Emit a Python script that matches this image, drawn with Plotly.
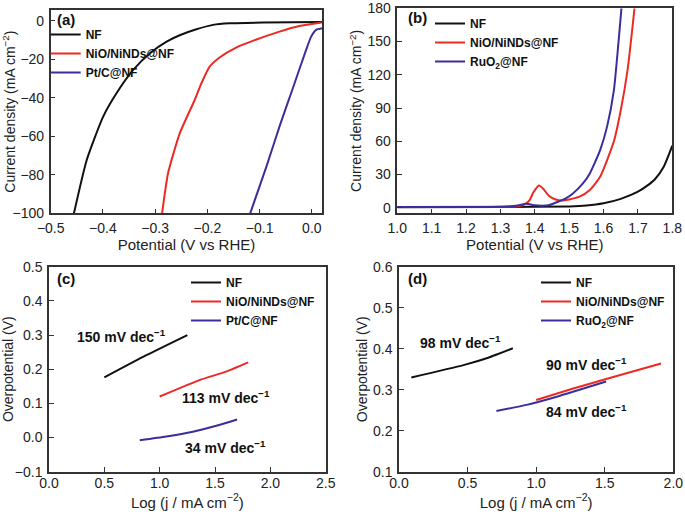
import plotly.graph_objects as go

# ---------------- data ----------------
# (a) HER polarization
a_nf_x = [-0.4555, -0.431, -0.3995, -0.374, -0.342, -0.310, -0.278, -0.253, -0.221, -0.189, -0.157, -0.094, 0.02]
a_nf_y = [-100, -72.3, -49.8, -37.7, -25.6, -16.9, -10.9, -7.6, -4.5, -2.2, -1.4, -1.0, -0.7]
a_nio_x = [-0.2867, -0.2753, -0.2529, -0.2243, -0.2114, -0.1956, -0.176, -0.145, -0.113, -0.062, -0.024, 0.019]
a_nio_y = [-100, -79.2, -58.5, -41.2, -32.5, -23.9, -19.0, -14.0, -10.5, -5.7, -2.8, -1.0]
a_pt_x = [-0.118, -0.087, -0.062, -0.0364, -0.011, -0.0013, 0.0083, 0.02]
a_pt_y = [-100, -75.8, -55.0, -35.1, -15.2, -8.3, -4.8, -4.0]

# (b) OER polarization
b_nf_x = [1.0, 1.3, 1.5, 1.55, 1.6, 1.65, 1.7, 1.725, 1.75, 1.775, 1.8]
b_nf_y = [0.5, 0.6, 1.2, 2.0, 4.0, 8.0, 14.5, 19.5, 26.0, 37.0, 56.0]
b_nio_x = [1.0, 1.3, 1.35, 1.37, 1.385, 1.396, 1.412, 1.425, 1.44, 1.46, 1.48, 1.50, 1.53, 1.56, 1.59, 1.63, 1.65, 1.67, 1.69]
b_nio_y = [0.8, 0.9, 1.3, 3.0, 7.0, 14.0, 20.2, 17.0, 11.0, 7.5, 6.6, 7.5, 10.0, 16.0, 28.0, 60.0, 88.0, 125.0, 180.0]
b_ru_x = [1.0, 1.3, 1.35, 1.375, 1.40, 1.42, 1.44, 1.46, 1.49, 1.51, 1.54, 1.56, 1.59, 1.61, 1.63, 1.643, 1.652]
b_ru_y = [0.8, 0.9, 2.0, 3.6, 2.2, 1.8, 2.2, 4.5, 8.5, 12.7, 22.0, 31.0, 52.0, 73.0, 106.0, 148.0, 180.0]

# (c) HER Tafel
c_nf_x = [0.5, 0.88, 1.25]
c_nf_y = [0.176, 0.241, 0.30]
c_nio_x = [1.0, 1.36, 1.6, 1.8]
c_nio_y = [0.12, 0.168, 0.193, 0.22]
c_pt_x = [0.82, 1.06, 1.30, 1.52, 1.70]
c_pt_y = [-0.008, 0.003, 0.017, 0.035, 0.053]
c_labels = ["150 mV dec<sup>−1</sup>", "113 mV dec<sup>−1</sup>", "34 mV dec<sup>−1</sup>"]
c_label_x = [0.657, 1.595, 1.593]
c_label_y = [0.298, 0.1176, -0.0288]

# (d) OER Tafel
d_nf_x = [0.09, 0.47, 0.65, 0.83]
d_nf_y = [0.33, 0.36, 0.378, 0.401]
d_nio_x = [1.0, 1.27, 1.51, 1.91]
d_nio_y = [0.275, 0.303, 0.326, 0.364]
d_ru_x = [0.71, 0.93, 1.15, 1.51]
d_ru_y = [0.248, 0.263, 0.283, 0.320]
d_labels = ["98 mV dec<sup>−1</sup>", "90 mV dec<sup>−1</sup>", "84 mV dec<sup>−1</sup>"]
d_label_x = [0.445, 1.368, 1.368]
d_label_y = [0.4154, 0.3626, 0.2488]

names_her = ["NF", "NiO/NiNDs@NF", "Pt/C@NF"]
names_oer = ["NF", "NiO/NiNDs@NF", "RuO<sub>2</sub>@NF"]
colors = ["#111111", "#EC2A23", "#3A2E9C"]

FONT = "Arial, Liberation Sans, sans-serif"

fig = go.Figure()

def add(x, y, name, color, xa, ya, leg):
    fig.add_trace(go.Scatter(x=x, y=y, name=name, mode="lines",
                             line=dict(color=color, width=2, shape="spline", smoothing=0.55),
                             xaxis=xa, yaxis=ya, legend=leg))

add(a_nf_x, a_nf_y, names_her[0], colors[0], "x", "y", "legend")
add(a_nio_x, a_nio_y, names_her[1], colors[1], "x", "y", "legend")
add(a_pt_x, a_pt_y, names_her[2], colors[2], "x", "y", "legend")

add(b_nf_x, b_nf_y, names_oer[0], colors[0], "x2", "y2", "legend2")
add(b_nio_x, b_nio_y, names_oer[1], colors[1], "x2", "y2", "legend2")
add(b_ru_x, b_ru_y, names_oer[2], colors[2], "x2", "y2", "legend2")

add(c_nf_x, c_nf_y, names_her[0], colors[0], "x3", "y3", "legend3")
add(c_nio_x, c_nio_y, names_her[1], colors[1], "x3", "y3", "legend3")
add(c_pt_x, c_pt_y, names_her[2], colors[2], "x3", "y3", "legend3")

add(d_nf_x, d_nf_y, names_oer[0], colors[0], "x4", "y4", "legend4")
add(d_nio_x, d_nio_y, names_oer[1], colors[1], "x4", "y4", "legend4")
add(d_ru_x, d_ru_y, names_oer[2], colors[2], "x4", "y4", "legend4")

def ax(domain, rng, dtick, fmt, title, anchor, tick0, horiz, lblstand, standoff, tsize):
    return dict(domain=domain, range=rng, dtick=dtick, tickformat=fmt, tick0=tick0,
                automargin=False,
                showline=True, linecolor="#333333", linewidth=1.5, mirror=True,
                ticks="inside", ticklen=5, tickwidth=1.2, tickcolor="#333333",
                showgrid=False, zeroline=False, anchor=anchor,
                tickfont=dict(family=FONT, size=14, color="#222222"),
                ticklabelstandoff=lblstand,
                title=dict(text=title, font=dict(family=FONT, size=tsize, color="#222222"),
                           standoff=standoff))

y_top = [0.585, 0.9805]
y_bot = [0.0823, 0.4811]

fig.update_layout(
    width=685, height=514,
    margin=dict(l=0, r=0, t=0, b=0, autoexpand=False),
    paper_bgcolor="white", plot_bgcolor="white",
    font=dict(family=FONT, size=14, color="#222222"),
    xaxis=ax([0.074, 0.4705], [-0.5, 0.02], 0.1, ".1f", "Potential (V vs RHE)", "y", 0, True, 1, 0, 15),
    yaxis=ax(y_top, [-100, 5.5], 20, "d", "Current density (mA cm<sup>−2</sup>)", "x", 0, False, 2, 2, 14),
    xaxis2=ax([0.580, 0.9815], [1.0, 1.8], 0.1, ".1f", "Potential (V vs RHE)", "y2", 1.0, True, 1, 0, 15),
    yaxis2=ax([0.585, 0.9838], [-5, 180], 30, "d", "Current density (mA cm<sup>−2</sup>)", "x2", 0, False, 2, 2, 14),
    xaxis3=ax([0.0715, 0.4755], [0, 2.5], 0.5, ".1f", "Log (j / mA cm<sup>−2</sup>)", "y3", 0, True, -2, 0, 15),
    yaxis3=ax(y_bot, [-0.1, 0.5], 0.1, ".1f", "Overpotential (V)", "x3", 0, False, 2, 2, 14),
    xaxis4=ax([0.5825, 0.983], [0, 2.0], 0.5, ".1f", "Log (j / mA cm<sup>−2</sup>)", "y4", 0, True, -2, 0, 15),
    yaxis4=ax(y_bot, [0.1, 0.6], 0.1, ".1f", "Overpotential (V)", "x4", 0, False, 2, 2, 14),
)

legfont = dict(family=FONT, size=12, color="#111111", weight="bold")
def leg(x, y):
    return dict(x=x, y=y, xanchor="left", yanchor="top", xref="paper", yref="paper",
                bgcolor="rgba(0,0,0,0)", borderwidth=0, font=legfont, itemwidth=30)

fig.update_layout(
    legend=leg(45.7 / 685, 1 - 20 / 514),
    legend2=leg(430 / 685, 1 - 9 / 514),
    legend3=leg(186 / 685, 1 - 268 / 514),
    legend4=leg(536 / 685, 1 - 268 / 514),
)

# panel labels
for txt, px, py in [("(a)", 66, 20), ("(b)", 417, 18), ("(c)", 66, 278), ("(d)", 417, 278)]:
    fig.add_annotation(text="<b>" + txt + "</b>", x=px / 685, y=1 - py / 514, xref="paper", yref="paper",
                       showarrow=False, xanchor="center", yanchor="middle",
                       font=dict(family=FONT, size=15, color="#111111"))

# slope labels
for t, x, y in zip(c_labels, c_label_x, c_label_y):
    fig.add_annotation(text="<b>" + t + "</b>", x=x, y=y, xref="x3", yref="y3", showarrow=False,
                       font=dict(family=FONT, size=14, color="#111111"))
for t, x, y in zip(d_labels, d_label_x, d_label_y):
    fig.add_annotation(text="<b>" + t + "</b>", x=x, y=y, xref="x4", yref="y4", showarrow=False,
                       font=dict(family=FONT, size=14, color="#111111"))

fig.write_html("out.html", config={"displayModeBar": False},
               post_script="document.body.style.margin='0';")
